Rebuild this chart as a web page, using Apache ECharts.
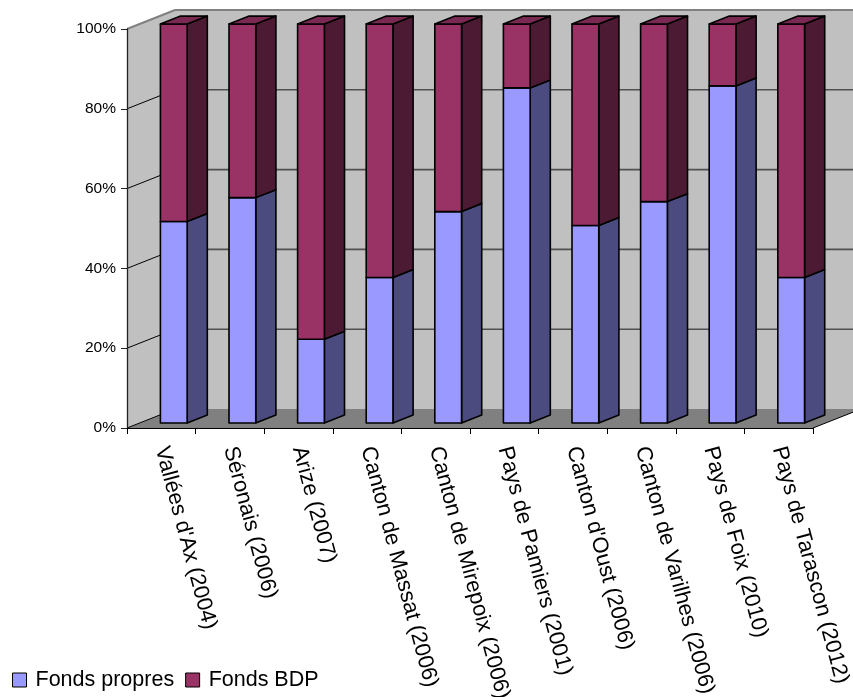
<!DOCTYPE html>
<html>
<head>
<meta charset="utf-8">
<script src="https://cdn.jsdelivr.net/npm/echarts@6/dist/echarts.min.js"></script>
<style>
html,body{margin:0;padding:0;background:#fff;}
#chart{width:853px;height:697px;}
</style>
</head>
<body>
<div id="chart"></div>
<script>
const categories = ["Vallées d'Ax (2004)", "Séronais (2006)", "Arize (2007)", "Canton de Massat (2006)", "Canton de Mirepoix (2006)", "Pays de Pamiers (2001)", "Canton d'Oust (2006)", "Canton de Varilhes (2006)", "Pays de Foix (2010)", "Pays de Tarascon (2012)"];
const fondsPropres = [50.5, 56.5, 21, 36.5, 53, 84, 49.5, 55.5, 84.5, 36.5];
const fondsBDP = [49.5, 43.5, 79, 63.5, 47, 16, 50.5, 44.5, 15.5, 63.5];
const yTicks = [0, 20, 40, 60, 80, 100];

const DX = 48, DY = -19;        // depth of the 3D box in pixels
const F0 = 0.26, F1 = 0.68;     // bar depth placement
const BARW = 0.39;              // bar width as fraction of category

const colors = {
  propres: {front: '#9999FF', side: '#4B4B7F', top: '#7A7ACC'},
  bdp: {front: '#993366', side: '#4C1A32', top: '#7A2952'}
};

function makePrism(col, drawTop) {
  return function (params, api) {
    const i = api.value(0), lo = api.value(1), hi = api.value(2);
    const cw = api.size([1, 0])[0];
    const p0 = api.coord([i, lo]);
    const p1 = api.coord([i, hi]);
    const w = cw * BARW;
    const xL = p0[0] - w / 2 + F0 * DX, xR = xL + w;
    const yb = p0[1] + F0 * DY, yt = p1[1] + F0 * DY;
    const sdx = (F1 - F0) * DX, sdy = (F1 - F0) * DY;
    const line = {stroke: '#000', lineWidth: 1.6, lineJoin: 'round'};
    const children = [
      {type: 'polygon', shape: {points: [[xR, yb], [xR + sdx, yb + sdy], [xR + sdx, yt + sdy], [xR, yt]]},
       style: Object.assign({fill: col.side}, line)},
      {type: 'polygon', shape: {points: [[xL, yb], [xR, yb], [xR, yt], [xL, yt]]},
       style: Object.assign({fill: col.front}, line)}
    ];
    if (drawTop) {
      children.push({type: 'polygon', shape: {points: [[xL, yt], [xR, yt], [xR + sdx, yt + sdy], [xL + sdx, yt + sdy]]},
        style: Object.assign({fill: col.top}, line)});
    }
    return {type: 'group', children: children};
  };
}

function renderWalls(params, api) {
  const cs = params.coordSys;
  const x0 = cs.x, x1 = cs.x + cs.width, yT = cs.y, yB = cs.y + cs.height;
  const ch = [];
  // back wall
  ch.push({type: 'polygon', shape: {points: [[x0 + DX, yT + DY], [x1 + DX, yT + DY], [x1 + DX, yB + DY], [x0 + DX, yB + DY]]},
    style: {fill: '#C0C0C0', stroke: null}});
  // left side wall
  ch.push({type: 'polygon', shape: {points: [[x0, yT], [x0 + DX, yT + DY], [x0 + DX, yB + DY], [x0, yB]]},
    style: {fill: '#C0C0C0', stroke: null}});
  // floor
  ch.push({type: 'polygon', shape: {points: [[x0, yB], [x1, yB], [x1 + DX, yB + DY], [x0 + DX, yB + DY]]},
    style: {fill: '#808080', stroke: null}});
  // back gridlines
  yTicks.forEach(function (t) {
    const y = api.coord([0, t])[1];
    if (t > 0 && t < 100) {
      ch.push({type: 'line', shape: {x1: x0 + DX, y1: y + DY, x2: x1 + DX, y2: y + DY},
        style: {stroke: '#505050', lineWidth: 1.6}});
    }
    // left wall diagonals
    ch.push({type: 'line', shape: {x1: x0, y1: y, x2: x0 + DX, y2: y + DY},
      style: {stroke: t === 100 ? '#808080' : '#000', lineWidth: t === 100 ? 2 : 1}});
  });
  // top edge of back wall
  ch.push({type: 'line', shape: {x1: x0 + DX, y1: yT + DY, x2: x1 + DX, y2: yT + DY},
    style: {stroke: '#808080', lineWidth: 2}});
  // right edge of floor
  ch.push({type: 'line', shape: {x1: x1, y1: yB, x2: x1 + DX, y2: yB + DY},
    style: {stroke: '#000', lineWidth: 1}});
  return {type: 'group', children: ch};
}

const propresData = categories.map(function (c, i) { return [i, 0, fondsPropres[i]]; });
const bdpData = categories.map(function (c, i) { return [i, fondsPropres[i], fondsPropres[i] + fondsBDP[i]]; });

const chart = echarts.init(document.getElementById('chart'), null, {renderer: 'canvas'});
chart.setOption({
  animation: false,
  backgroundColor: '#fff',
  textStyle: {fontFamily: 'Liberation Sans, Arial, sans-serif'},
  grid: {left: 127, right: 40, top: 29, bottom: 269, containLabel: false, outerBoundsMode: 'none'},
  legend: {
    data: ['Fonds propres', 'Fonds BDP'],
    left: 7, top: 664, padding: [5, 5, 5, 5],
    icon: 'rect', itemWidth: 14, itemHeight: 14, itemGap: 11,
    itemStyle: {borderColor: '#000', borderWidth: 1},
    textStyle: {fontSize: 21.5, color: '#000', padding: [0, 0, 0, 4]}
  },
  xAxis: {
    type: 'category', data: categories, z: 10,
    axisLine: {show: true, lineStyle: {color: '#000', width: 1}},
    axisTick: {show: true, length: 6, lineStyle: {color: '#000'}},
    axisLabel: {rotate: -75, fontSize: 22, color: '#000', margin: 19, interval: 0}
  },
  yAxis: {
    type: 'value', min: 0, max: 100, interval: 20, z: 10,
    axisLine: {show: true, lineStyle: {color: '#222', width: 1.3}},
    axisTick: {show: true, length: 6, lineStyle: {color: '#222'}},
    splitLine: {show: false},
    axisLabel: {formatter: '{value}%', fontSize: 15.5, color: '#000', margin: 11}
  },
  series: [
    {type: 'custom', name: 'walls', z: 1, silent: true, data: [[0, 0]], renderItem: renderWalls},
    {type: 'custom', name: 'Fonds propres', z: 3, data: propresData, itemStyle: {color: colors.propres.front},
     encode: {x: 0, y: [1, 2]}, renderItem: makePrism(colors.propres, false)},
    {type: 'custom', name: 'Fonds BDP', z: 4, data: bdpData, itemStyle: {color: colors.bdp.front},
     encode: {x: 0, y: [1, 2]}, renderItem: makePrism(colors.bdp, true)}
  ]
});
</script>
</body>
</html>
